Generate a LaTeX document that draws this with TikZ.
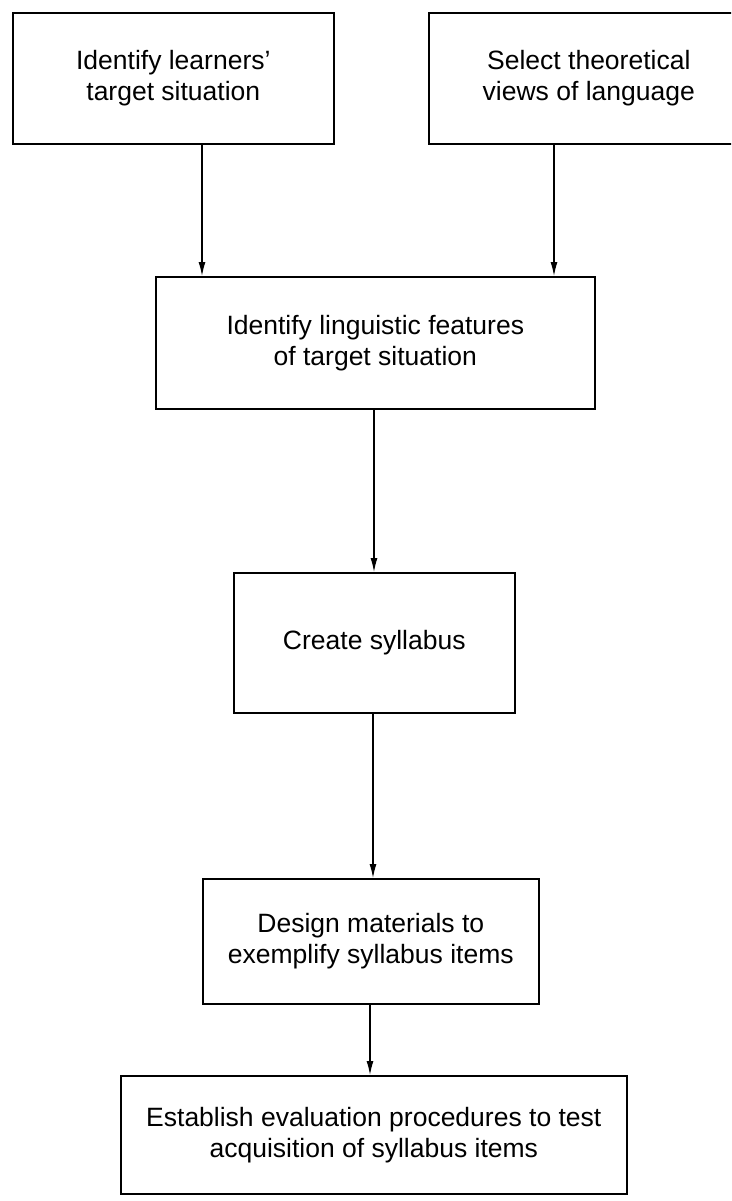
\documentclass[tikz,border=0pt]{standalone}
\usepackage{fontspec}
\setmainfont{Liberation Sans}
\usetikzlibrary{arrows.meta}

\tikzset{
  stage/.style={draw=black, line width=1.6pt, anchor=north west, align=center,
    inner sep=0pt, font=\fontsize{26.5}{31}\selectfont},
  flow/.style={draw=black, line width=1.2pt, -{Latex[length=14pt,width=7pt]}}
}

\begin{document}
\begin{tikzpicture}[x=1pt, y=-1pt]
  % page frame: 731 x 1201
  \useasboundingbox (0,0) rectangle (731,1201);
  \clip (0,0) rectangle (731,1201);

  % process boxes (top-left corner, width, height)
  \node[stage, minimum width=321pt, minimum height=131pt] (learners) at (12,12)
    {Identify learners'\\target situation};
  \node[stage, minimum width=320pt, minimum height=131pt] (views) at (428,12)
    {Select theoretical\\views of language};
  \node[stage, minimum width=439pt, minimum height=132pt] (features) at (155,276)
    {Identify linguistic features\\of target situation};
  \node[stage, minimum width=281pt, minimum height=140pt] (syllabus) at (233,572)
    {Create syllabus};
  \node[stage, minimum width=336pt, minimum height=125pt] (materials) at (202,878)
    {Design materials to\\exemplify syllabus items};
  \node[stage, minimum width=506pt, minimum height=118pt] (evaluation) at (120,1075)
    {Establish evaluation procedures to test\\acquisition of syllabus items};

  % x positions of the connectors
  \coordinate (xa) at (202,0);
  \coordinate (xb) at (554,0);
  \coordinate (xc) at (374,0);
  \coordinate (xd) at (373,0);
  \coordinate (xe) at (370,0);

  % connectors
  \draw[flow] (learners.south -| xa) -- (features.north -| xa);
  \draw[flow] (views.south -| xb) -- (features.north -| xb);
  \draw[flow] (features.south -| xc) -- (syllabus.north -| xc);
  \draw[flow] (syllabus.south -| xd) -- (materials.north -| xd);
  \draw[flow] (materials.south -| xe) -- (evaluation.north -| xe);
\end{tikzpicture}
\end{document}
